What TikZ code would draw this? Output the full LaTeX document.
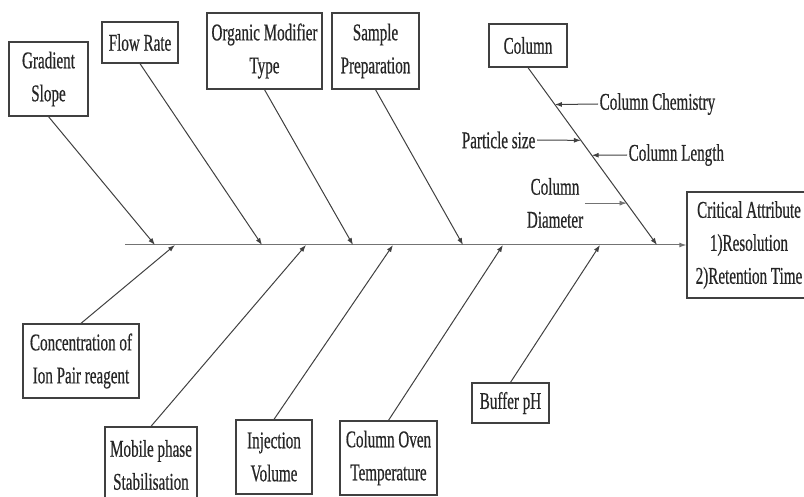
\documentclass[tikz,border=0pt]{standalone}
\usepackage{fontspec}
\setmainfont{Liberation Serif}[FakeStretch=0.63,FakeBold=0.5]
\usetikzlibrary{arrows.meta}

\tikzset{
  cause/.style={draw=black!75, line width=1.3pt, align=center, inner sep=0pt,
    text=black!85, font=\fontsize{24}{33}\selectfont},
  bone/.style={draw=black!75, line width=1pt, -{Latex[length=7pt,width=5pt]}},
  sublabel/.style={inner sep=1.5pt, text=black!85, font=\fontsize{24}{33}\selectfont},
}

\begin{document}
\begin{tikzpicture}[x=1pt,y=-1pt]

        \useasboundingbox (0,0) rectangle (804,497);

        \node[cause, minimum width=124pt, minimum height=106pt] (crit) at (749,245) {Critical Attribute\\1)Resolution\\2)Retention Time};

        \node[cause, minimum width=79pt, minimum height=74pt] (grad) at (48.5,79) {Gradient\\Slope};
        \node[cause, minimum width=76pt, minimum height=41pt] (flow) at (140,42.5) {Flow Rate};
        \node[cause, minimum width=115pt, minimum height=76pt] (organic) at (264.5,51) {Organic Modifier\\Type};
        \node[cause, minimum width=87pt, minimum height=76pt] (sample) at (375.5,51) {Sample\\Preparation};
        \node[cause, minimum width=78pt, minimum height=43pt] (column) at (528,45.5) {Column};

        \node[cause, minimum width=116pt, minimum height=74pt] (conc) at (81,361) {Concentration of\\Ion Pair reagent};
        \node[cause, minimum width=92pt, minimum height=76pt] (mobile) at (151,465) {Mobile phase\\Stabilisation};
        \node[cause, minimum width=76pt, minimum height=74pt] (inject) at (274,457) {Injection\\Volume};
        \node[cause, minimum width=97pt, minimum height=74pt] (oven) at (388.5,458) {Column Oven\\Temperature};
        \node[cause, minimum width=77pt, minimum height=40pt] (buffer) at (510.5,403) {Buffer pH};

        \coordinate (tail) at (125,245);
        \coordinate (t1) at (155,245); \coordinate (t2) at (262,245); \coordinate (t3) at (353,245);
        \coordinate (t4) at (463,245); \coordinate (t5) at (657,245);
        \coordinate (b1) at (175,245); \coordinate (b2) at (306,245); \coordinate (b3) at (393,245);
        \coordinate (b4) at (503,245); \coordinate (b5) at (600,245);

        \draw[bone, draw=black!55] (tail) -- (crit.west);

        \draw[bone] (grad.south) -- (t1);
        \draw[bone] (flow.south) -- (t2);
        \draw[bone] (organic.south) -- (t3);
        \draw[bone] (sample.south) -- (t4);
        \draw[bone] (column.south) -- (t5);

        \draw[bone] (conc.north) -- (b1);
        \draw[bone] (mobile.north) -- (b2);
        \draw[bone] (inject.north) -- (b3);
        \draw[bone] (oven.north) -- (b4);
        \draw[bone] (buffer.north) -- (b5);

        \path (column.south) -- (t5) coordinate[pos=0.208] (chem) coordinate[pos=0.41] (part)
              coordinate[pos=0.494] (len) coordinate[pos=0.764] (dia);

        \node[sublabel, anchor=west] (chemtxt) at (598,104) {Column Chemistry};
        \node[sublabel, anchor=east] (parttxt) at (537,140) {Particle size};
        \node[sublabel, anchor=west] (lentxt) at (627,155) {Column Length};
        \node[sublabel, align=center] (diatxt) at (555,203) {Column\\Diameter};

        \draw[bone] (chemtxt.west) -- (chem);
        \draw[bone] (parttxt.east) -- (part);
        \draw[bone] (lentxt.west) -- (len);
        \draw[bone, draw=black!55, line width=0.7pt] (diatxt.east |- dia) -- (dia);

      \end{tikzpicture}
\end{document}
